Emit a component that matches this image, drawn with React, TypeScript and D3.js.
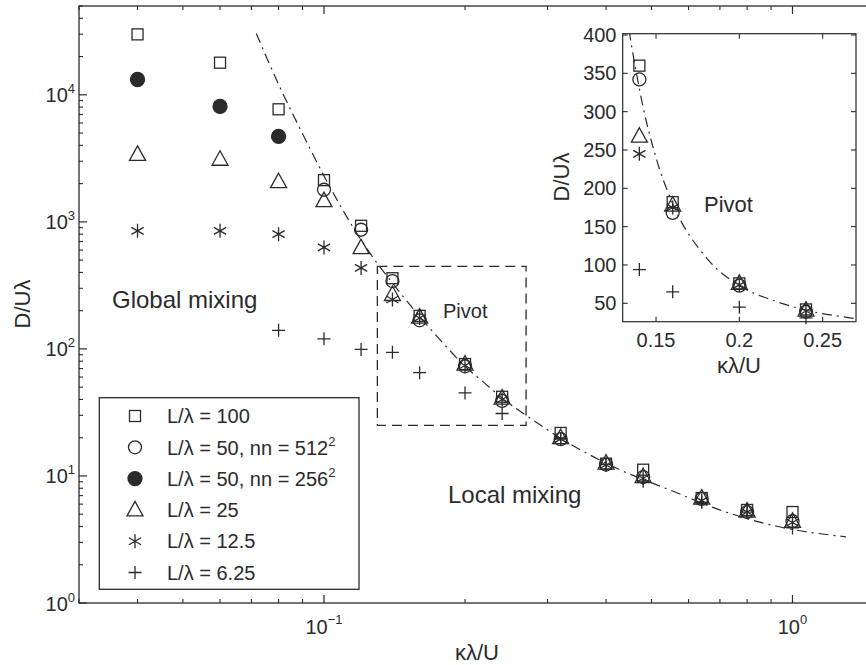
import React from "react";
import * as d3 from "d3";

// ---- data ----
const kValues = [0.04, 0.06, 0.08, 0.1, 0.12, 0.14, 0.16, 0.2, 0.24, 0.32, 0.4, 0.48, 0.64, 0.8, 1.0];
const sq100 = [29900, 17900, 7690, 2130, 931, 360, 182, 76, 42, 21.8, 12.5, 11.2, 6.7, 5.4, 5.2];
const circ50fine = [null, null, null, 1790, 867, 342, 168, 73, 39, 19.5, 12.3, 9.8, 6.6, 5.2, 4.4];
const dot50coarse = [13200, 8100, 4700, null, null, null, null, null, null, null, null, null, null, null, null];
const tri25 = [3400, 3110, 2070, 1470, 626, 268, 178, 76, 41, 20, 12.6, 9.9, 6.7, 5.3, 4.4];
const ast12 = [850, 850, 800, 629, 434, 245, 175, 74, 40, 19.5, 12.2, 9.6, 6.4, 5.2, 4.3];
const plus6 = [null, null, 140, 120, 99, 94, 65, 45, 31, 19.5, 12.3, 9.1, 6.2, 5.2, 3.9];

const fitK = [0.0717, 0.08, 0.09, 0.1, 0.12, 0.13, 0.14, 0.15, 0.16, 0.18, 0.2, 0.22, 0.24, 0.27, 0.33, 0.43, 0.55, 0.69, 0.93, 1.3];
const fitD = [30400, 12100, 4940, 2300, 720, 470, 330, 240, 180, 110, 73, 54, 41, 30, 18.5, 11.1, 7.7, 5.5, 4.0, 3.32];

const seriesNames = ["L/λ = 100", "L/λ = 50, nn = 512", "L/λ = 50, nn = 256", "L/λ = 25", "L/λ = 12.5", "L/λ = 6.25"];
const seriesSup = ["", "2", "2", "", "", ""];
const seriesMarkers = ["square", "circle", "dot", "triangle", "asterisk", "plus"];
const seriesValues = [sq100, circ50fine, dot50coarse, tri25, ast12, plus6];

const yMainExps = [0, 1, 2, 3, 4];
const xMainExps = [-1, 0];
const insetYTicks = [50, 100, 150, 200, 250, 300, 350, 400];
const insetXTicks = [0.15, 0.2, 0.25];
const insetXLabels = ["0.15", "0.2", "0.25"];

const C = "#2b2b2b";
const FONT = "'Liberation Sans', Arial, Helvetica, sans-serif";

function Marker({ type, x, y }: { type: string; x: number; y: number }) {
  const sw = 1.3;
  switch (type) {
    case "square":
      return <rect x={x - 5.5} y={y - 5.5} width={11} height={11} fill="none" stroke={C} strokeWidth={sw} />;
    case "circle":
      return <circle cx={x} cy={y} r={6.5} fill="none" stroke={C} strokeWidth={sw} />;
    case "dot":
      return <circle cx={x} cy={y} r={7} fill={C} stroke={C} strokeWidth={sw} />;
    case "triangle":
      return <path d={`M${x},${y - 8.5}L${x + 8},${y + 6}L${x - 8},${y + 6}Z`} fill="none" stroke={C} strokeWidth={sw} />;
    case "asterisk":
      return (
        <path
          d={`M${x},${y - 7}L${x},${y + 7}M${x - 6.1},${y - 3.5}L${x + 6.1},${y + 3.5}M${x - 6.1},${y + 3.5}L${x + 6.1},${y - 3.5}`}
          fill="none"
          stroke={C}
          strokeWidth={sw}
        />
      );
    case "plus":
      return <path d={`M${x},${y - 6.5}L${x},${y + 6.5}M${x - 6.5},${y}L${x + 6.5},${y}`} fill="none" stroke={C} strokeWidth={sw} />;
  }
  return null;
}

export default function App() {
  // main axes
  const mL = 79, mR = 875, mT = 6, mB = 603;
  const x = d3.scaleLog().domain([0.03, 1.5]).range([mL, mR]);
  const y = d3.scaleLog().domain([1, 5e4]).range([mB, mT]);

  // inset axes
  const iL = 622.7, iR = 856, iT = 33.7, iB = 321.7;
  const xi = d3.scaleLinear().domain([0.13, 0.27]).range([iL, iR]);
  const yi = d3.scaleLinear().domain([26, 401.7]).range([iB, iT]);

  const fit = fitK.map((k, i) => [k, fitD[i]] as [number, number]);
  const mainLine = d3.line<[number, number]>().x((d) => x(d[0])).y((d) => y(d[1])).curve(d3.curveMonotoneX);
  const insetFit = fit.filter((d) => d[0] >= 0.12 && d[0] <= 0.33);
  const insetLine = d3.line<[number, number]>().x((d) => xi(d[0])).y((d) => yi(d[1])).curve(d3.curveMonotoneX);

  // main ticks
  const yMinor: number[] = [];
  for (let e = 0; e < 5; e++) for (let m = 2; m <= 9; m++) { const v = m * Math.pow(10, e); if (v <= 5e4) yMinor.push(v); }
  const xMinor: number[] = [];
  for (let e = -2; e <= 0; e++) for (let m = 2; m <= 9; m++) { const v = m * Math.pow(10, e); if (v >= 0.03 && v <= 1.5) xMinor.push(v); }

  const dashBox = { k0: 0.13, k1: 0.27, d0: 25, d1: 447 };

  const legendX0 = 99.3, legendY0 = 397.7, legendW = 259.7, legendH = 191.6;

  return (
    <svg width={866} height={665} style={{ position: "absolute", left: 0, top: 0, background: "#fff" }} fontFamily={FONT}>
      <defs>
        <clipPath id="mainClip">
          <rect x={mL} y={mT} width={mR - mL} height={mB - mT} />
        </clipPath>
        <clipPath id="insetClip">
          <rect x={iL} y={iT} width={iR - iL} height={iB - iT} />
        </clipPath>
      </defs>
      <rect x={0} y={0} width={866} height={665} fill="#fff" />

      {/* main axes box */}
      <rect x={mL} y={mT} width={mR - mL} height={mB - mT} fill="none" stroke={C} strokeWidth={1.3} />
      {/* y ticks */}
      {yMainExps.map((e) => {
        const v = Math.pow(10, e);
        return (
          <g key={"ym" + e}>
            <line x1={mL} x2={mL + 8} y1={y(v)} y2={y(v)} stroke={C} strokeWidth={1.2} />
            <line x1={mR} x2={mR - 8} y1={y(v)} y2={y(v)} stroke={C} strokeWidth={1.2} />
            <text x={75} y={y(v) + 7.5} textAnchor="end" fontSize={20} fill={C}>
              10<tspan fontSize={13} dy={-9}>{e}</tspan>
            </text>
          </g>
        );
      })}
      {yMinor.map((v) => (
        <g key={"ymn" + v}>
          <line x1={mL} x2={mL + 4} y1={y(v)} y2={y(v)} stroke={C} strokeWidth={1.1} />
          <line x1={mR} x2={mR - 4} y1={y(v)} y2={y(v)} stroke={C} strokeWidth={1.1} />
        </g>
      ))}
      {/* x ticks */}
      {xMainExps.map((e) => {
        const v = Math.pow(10, e);
        return (
          <g key={"xm" + e}>
            <line x1={x(v)} x2={x(v)} y1={mB} y2={mB - 8} stroke={C} strokeWidth={1.2} />
            <line x1={x(v)} x2={x(v)} y1={mT} y2={mT + 8} stroke={C} strokeWidth={1.2} />
            <text x={x(v)} y={634} textAnchor="middle" fontSize={20} fill={C}>
              10<tspan fontSize={13} dy={-10}>{e < 0 ? "−" + Math.abs(e) : String(e)}</tspan>
            </text>
          </g>
        );
      })}
      {xMinor.map((v) => (
        <g key={"xmn" + v}>
          <line x1={x(v)} x2={x(v)} y1={mB} y2={mB - 4} stroke={C} strokeWidth={1.1} />
          <line x1={x(v)} x2={x(v)} y1={mT} y2={mT + 4} stroke={C} strokeWidth={1.1} />
        </g>
      ))}

      {/* axis labels */}
      <text x={477} y={660} textAnchor="middle" fontSize={22} fill={C}>κλ/U</text>
      <text transform={`translate(30,304) rotate(-90)`} textAnchor="middle" fontSize={22} fill={C}>D/Uλ</text>

      {/* fit curve */}
      <path d={mainLine(fit) || ""} fill="none" stroke={C} strokeWidth={1.2} strokeDasharray="10,5,2,5" clipPath="url(#mainClip)" />

      {/* dashed pivot box */}
      <rect
        x={x(dashBox.k0)}
        y={y(dashBox.d1)}
        width={x(dashBox.k1) - x(dashBox.k0)}
        height={y(dashBox.d0) - y(dashBox.d1)}
        fill="none"
        stroke={C}
        strokeWidth={1.3}
        strokeDasharray="10,6"
      />

      {/* markers main */}
      {seriesValues.map((vals, si) =>
        vals.map((v, i) =>
          v == null ? null : <Marker key={`m${si}-${i}`} type={seriesMarkers[si]} x={x(kValues[i])} y={y(v)} />
        )
      )}

      {/* annotations */}
      <text x={112} y={308} fontSize={24} fill={C}>Global mixing</text>
      <text x={448} y={503} fontSize={24} fill={C}>Local mixing</text>
      <text x={443} y={318} fontSize={20} fill={C}>Pivot</text>

      {/* legend */}
      <rect x={legendX0} y={legendY0} width={legendW} height={legendH} fill="#fff" stroke={C} strokeWidth={1.3} />
      {seriesNames.map((name, i) => {
        const cy = 416 + i * 31.3;
        return (
          <g key={"lg" + i}>
            <Marker type={seriesMarkers[i]} x={135} y={cy} />
            <text x={167} y={cy + 7.2} fontSize={20} fill={C}>
              {name}
              {seriesSup[i] ? <tspan fontSize={13} dy={-9}>{seriesSup[i]}</tspan> : null}
            </text>
          </g>
        );
      })}

      {/* inset */}
      <rect x={iL} y={iT} width={iR - iL} height={iB - iT} fill="#fff" stroke={C} strokeWidth={1.2} />
      {insetYTicks.map((v) => (
        <g key={"iy" + v}>
          <line x1={iL} x2={iL + 5} y1={yi(v)} y2={yi(v)} stroke={C} strokeWidth={1.1} />
          <line x1={iR} x2={iR - 5} y1={yi(v)} y2={yi(v)} stroke={C} strokeWidth={1.1} />
          <text x={616.5} y={yi(v) + 7} textAnchor="end" fontSize={20} fill={C}>{v}</text>
        </g>
      ))}
      {insetXTicks.map((v, i) => (
        <g key={"ix" + v}>
          <line x1={xi(v)} x2={xi(v)} y1={iB} y2={iB - 5} stroke={C} strokeWidth={1.1} />
          <line x1={xi(v)} x2={xi(v)} y1={iT} y2={iT + 5} stroke={C} strokeWidth={1.1} />
          <text x={xi(v)} y={347} textAnchor="middle" fontSize={20} fill={C}>{insetXLabels[i]}</text>
        </g>
      ))}
      <text x={739} y={373} textAnchor="middle" fontSize={22} fill={C}>κλ/U</text>
      <text transform={`translate(569,177) rotate(-90)`} textAnchor="middle" fontSize={22} fill={C}>D/Uλ</text>
      <path d={insetLine(insetFit) || ""} fill="none" stroke={C} strokeWidth={1.2} strokeDasharray="10,5,2,5" clipPath="url(#insetClip)" />
      {seriesValues.map((vals, si) =>
        vals.map((v, i) =>
          v == null || kValues[i] < 0.13 || kValues[i] > 0.27 ? null : (
            <Marker key={`i${si}-${i}`} type={seriesMarkers[si]} x={xi(kValues[i])} y={yi(v)} />
          )
        )
      )}
      <text x={704} y={211.5} fontSize={22} fill={C}>Pivot</text>
    </svg>
  );
}
